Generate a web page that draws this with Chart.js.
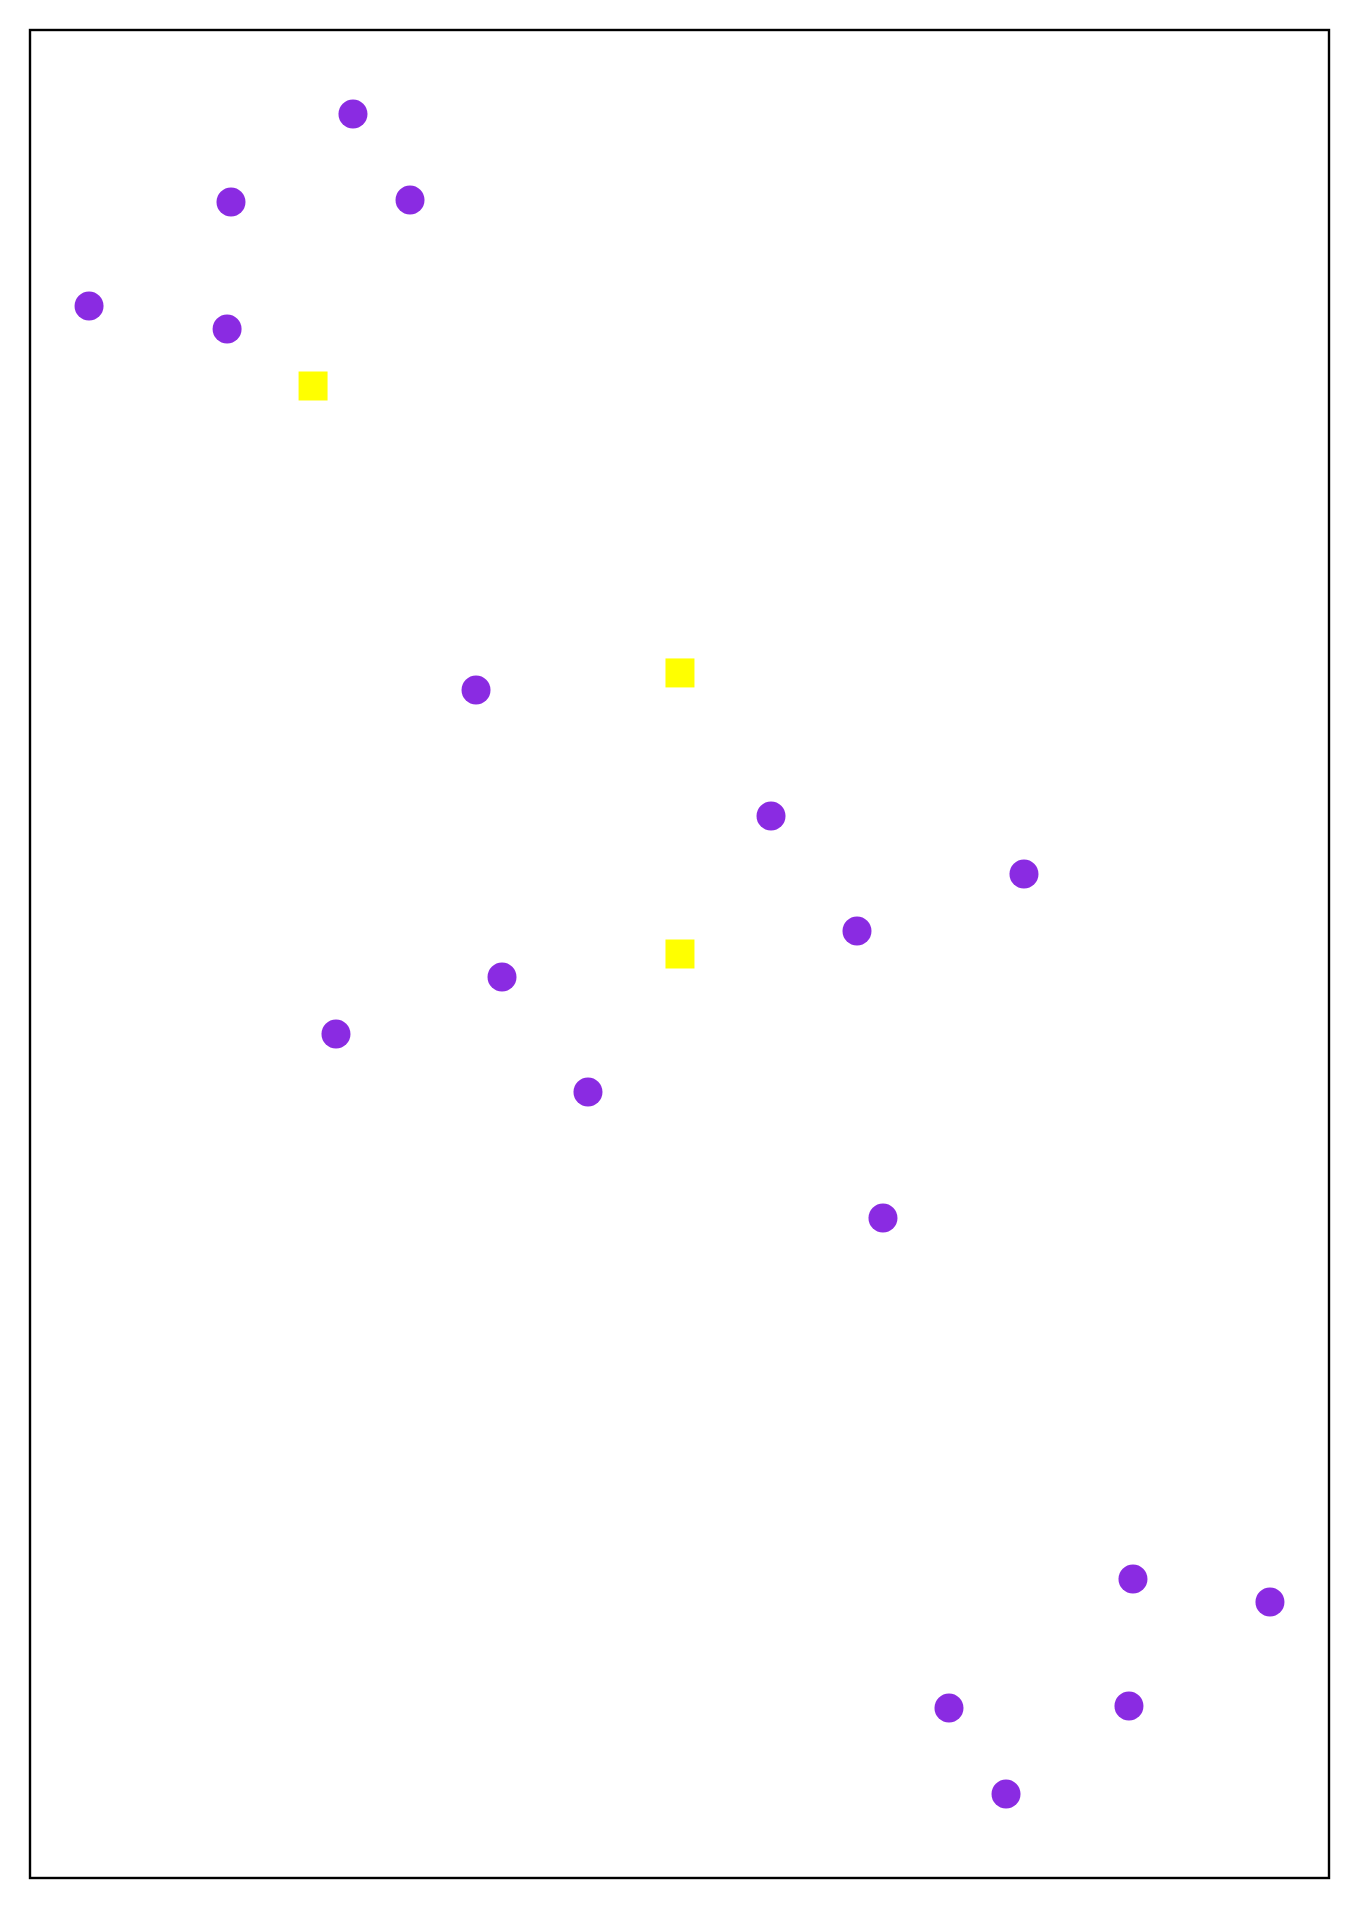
<!DOCTYPE html>
<html>
<head>
<meta charset="utf-8">
<script src="https://cdn.jsdelivr.net/npm/chart.js@4"></script>
<style>
  html, body { margin: 0; padding: 0; background: #ffffff; }
  #wrap { width: 1359px; height: 1908px; }
</style>
</head>
<body>
<div id="wrap"><canvas id="c" width="1359" height="1908"></canvas></div>
<script>
// Data points (data units)
const pointsX = [2.235, 1.202, 2.718, 0.0, 1.169, 3.277, 5.775, 7.917, 6.503, 3.497, 2.091, 4.225, 6.723, 8.840, 10.0, 7.282, 8.806, 7.765];
const pointsY = [10.0, 9.476, 9.488, 8.857, 8.720, 6.571, 5.821, 5.476, 5.137, 4.863, 4.524, 4.179, 3.429, 1.280, 1.143, 0.512, 0.524, 0.0];
// Centroids
const centersX = [1.897, 5.004, 5.004];
const centersY = [8.381, 6.673, 5.0];

const xRange = [-0.5, 10.5];
const yRange = [-0.5, 10.5];

const toXY = (xs, ys) => xs.map((x, i) => ({ x: x, y: ys[i] }));

const framePlugin = {
  id: 'frame',
  afterDraw(chart) {
    const a = chart.chartArea;
    const ctx = chart.ctx;
    ctx.save();
    ctx.strokeStyle = '#000000';
    ctx.lineWidth = 2.4;
    ctx.strokeRect(a.left, a.top, a.right - a.left, a.bottom - a.top);
    ctx.restore();
  }
};

const bgPlugin = {
  id: 'bg',
  beforeDraw(chart) {
    const ctx = chart.ctx;
    ctx.save();
    ctx.fillStyle = '#ffffff';
    ctx.fillRect(0, 0, chart.width, chart.height);
    ctx.restore();
  }
};

new Chart(document.getElementById('c'), {
  type: 'scatter',
  data: {
    datasets: [
      {
        label: 'points',
        data: toXY(pointsX, pointsY),
        pointStyle: 'circle',
        pointRadius: 14.5,
        pointHoverRadius: 14.5,
        backgroundColor: '#8A2BE2',
        borderWidth: 0,
        clip: false
      },
      {
        label: 'centers',
        data: toXY(centersX, centersY),
        pointStyle: 'rect',
        pointRadius: 20.5,
        pointHoverRadius: 20.5,
        backgroundColor: '#FFFF00',
        borderWidth: 0,
        clip: false
      }
    ]
  },
  options: {
    responsive: false,
    animation: false,
    events: [],
    layout: { padding: { left: 30, top: 30, right: 30, bottom: 30 } },
    plugins: { legend: { display: false }, tooltip: { enabled: false } },
    scales: {
      x: { type: 'linear', display: false, min: xRange[0], max: xRange[1] },
      y: { type: 'linear', display: false, min: yRange[0], max: yRange[1] }
    }
  },
  plugins: [bgPlugin, framePlugin]
});
</script>
</body>
</html>
